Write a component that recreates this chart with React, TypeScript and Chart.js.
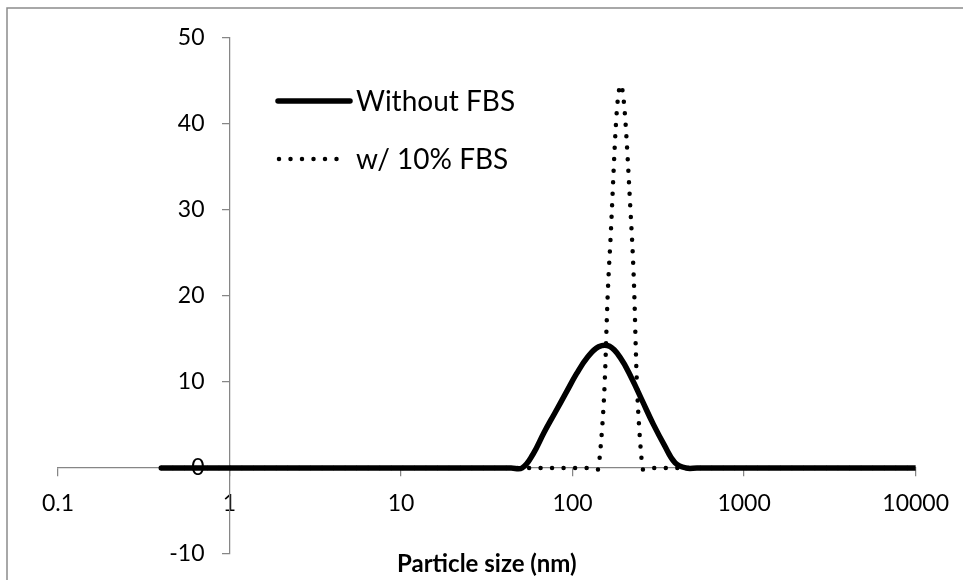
import { useEffect, useRef } from "react";
import { Chart, registerables } from "chart.js";

Chart.register(...registerables);

// Log-spaced size classes (nm) of the DLS size distribution
const sizeBins = [
  0.4, 0.4632, 0.5365, 0.6213, 0.7195, 0.8332, 0.9649, 1.117, 1.294, 1.499,
  1.736, 2.01, 2.328, 2.696, 3.122, 3.615, 4.187, 4.849, 5.615, 6.503,
  7.531, 8.721, 10.1, 11.7, 13.54, 15.69, 18.17, 21.04, 24.36, 28.21,
  32.67, 37.84, 43.82, 50.75, 58.77, 68.06, 78.82, 91.28, 105.7, 122.4,
  141.8, 164.2, 190.1, 220.2, 255.0, 295.3, 342.0, 396.1, 458.7, 531.2,
  615.1, 712.4, 825.0, 955.4, 1106, 1281, 1484, 1718, 1990, 2305,
  2669, 3091, 3580, 4145, 4801, 5560, 6439, 7456, 8635, 10000,
];

// Intensity (%) per size class
const withoutFbs = [
  0, 0, 0, 0, 0, 0, 0, 0, 0, 0,
  0, 0, 0, 0, 0, 0, 0, 0, 0, 0,
  0, 0, 0, 0, 0, 0, 0, 0, 0, 0,
  0, 0, 0, 0, 1.6, 4.1, 6.4, 8.7, 11.0, 12.9,
  14.1, 14.15, 12.8, 10.5, 7.8, 5.1, 2.7, 0.6, 0, 0,
  0, 0, 0, 0, 0, 0, 0, 0, 0, 0,
  0, 0, 0, 0, 0, 0, 0, 0, 0, 0,
];

const withFbs = [
  0, 0, 0, 0, 0, 0, 0, 0, 0, 0,
  0, 0, 0, 0, 0, 0, 0, 0, 0, 0,
  0, 0, 0, 0, 0, 0, 0, 0, 0, 0,
  0, 0, 0, 0, 0, 0, 0, 0, 0, 0,
  0, 24.5, 44.5, 28.0, 0, 0, 0, 0, 0, 0,
  0, 0, 0, 0, 0, 0, 0, 0, 0, 0,
  0, 0, 0, 0, 0, 0, 0, 0, 0, 0,
];

const seriesNames = ["Without FBS", "w/ 10% FBS"];
const xTickValues = [0.1, 1, 10, 100, 1000, 10000];
const xTickLabels = ["0.1", "1", "10", "100", "1000", "10000"];
const yTickValues = [-10, 0, 10, 20, 30, 40, 50];
const yTickLabels = ["-10", "0", "10", "20", "30", "40", "50"];
const xAxisTitle = "Particle size (nm)";

const FONT = "Lato, 'Open Sans', sans-serif";
const AXIS_GRAY = "#868686";
const TEXT = "#000000";

const toPoints = (values: number[]) =>
  sizeBins.map((x, i) => ({ x, y: values[i] }));

// Frame, y tick labels beside the crossing axis, axis title and legend
const decorations = {
  id: "decorations",
  beforeDraw(chart: any) {
    const { ctx } = chart;
    ctx.save();
    ctx.strokeStyle = "#8c8c8c";
    ctx.lineWidth = 1.5;
    ctx.beginPath();
    ctx.moveTo(7, chart.height + 2);
    ctx.lineTo(7, 8);
    ctx.lineTo(chart.width + 2, 8);
    ctx.stroke();
    ctx.restore();
  },
  beforeDatasetsDraw(chart: any) {
    const { ctx, chartArea } = chart;
    const xs = chart.scales.x;
    const ys = chart.scales.y;
    const axisX = xs.getPixelForValue(1);
    ctx.save();
    ctx.fillStyle = TEXT;
    ctx.font = `23px ${FONT}`;
    ctx.textAlign = "right";
    ctx.textBaseline = "middle";
    yTickValues.forEach((v, i) => {
      ctx.fillText(yTickLabels[i], axisX - 25, ys.getPixelForValue(v));
    });
    ctx.font = `bold 24px ${FONT}`;
    ctx.textAlign = "center";
    ctx.textBaseline = "alphabetic";
    ctx.fillText(xAxisTitle, (chartArea.left + chartArea.right) / 2, 572);
    ctx.restore();
  },
  afterDraw(chart: any) {
    const { ctx } = chart;
    const rows = [
      { ds: chart.data.datasets[0], y: 101, x0: 278, x1: 350 },
      { ds: chart.data.datasets[1], y: 159, x0: 279, x1: 341 },
    ];
    ctx.save();
    rows.forEach((r, i) => {
      ctx.strokeStyle = r.ds.borderColor;
      ctx.lineWidth = r.ds.borderWidth;
      ctx.lineCap = "round";
      ctx.setLineDash(r.ds.borderDash || []);
      ctx.beginPath();
      ctx.moveTo(r.x0, r.y);
      ctx.lineTo(r.x1, r.y);
      ctx.stroke();
      ctx.setLineDash([]);
      ctx.fillStyle = TEXT;
      ctx.font = `28px ${FONT}`;
      ctx.textAlign = "left";
      ctx.textBaseline = "middle";
      ctx.fillText(seriesNames[i], 356, r.y + 1);
    });
    ctx.restore();
  },
};

export default function App() {
  const canvasRef = useRef<HTMLCanvasElement | null>(null);

  useEffect(() => {
    const canvas = canvasRef.current;
    if (!canvas) return;
    const chart = new Chart(canvas, {
      type: "line",
      data: {
        datasets: [
          {
            label: seriesNames[0],
            data: toPoints(withoutFbs),
            borderColor: "#000000",
            borderWidth: 5.5,
            borderCapStyle: "round",
            borderJoinStyle: "round",
            pointRadius: 0,
            tension: 0.4,
            fill: false,
            order: 1,
          },
          {
            label: seriesNames[1],
            data: toPoints(withFbs),
            borderColor: "#000000",
            borderWidth: 4.5,
            borderDash: [0, 11.5],
            borderCapStyle: "round",
            borderJoinStyle: "round",
            pointRadius: 0,
            tension: 0.4,
            fill: false,
            order: 0,
          },
        ],
      },
      options: {
        animation: false,
        responsive: false,
        devicePixelRatio: 1,
        layout: { padding: { left: 58, top: 38, right: 44, bottom: 26 } },
        plugins: {
          legend: { display: false },
          tooltip: { enabled: false },
          title: { display: false },
        },
        scales: {
          x: {
            type: "logarithmic",
            min: 0.1,
            max: 10000,
            position: { y: 0 },
            afterBuildTicks: (scale: any) => {
              scale.ticks = xTickValues.map((value) => ({ value }));
            },
            ticks: {
              autoSkip: false,
              maxRotation: 0,
              minRotation: 0,
              padding: 14,
              color: TEXT,
              font: { family: FONT, size: 23, lineHeight: 1.2 },
              callback: (v: any) => {
                const i = xTickValues.indexOf(Number(v));
                return i >= 0 ? xTickLabels[i] : "";
              },
            },
            grid: {
              display: true,
              drawOnChartArea: false,
              drawTicks: true,
              tickLength: 8,
              color: AXIS_GRAY,
              lineWidth: 1.25,
            },
            border: { display: true, color: AXIS_GRAY, width: 1.25 },
            title: { display: false },
          },
          y: {
            type: "linear",
            axis: "y",
            min: -10,
            max: 50,
            position: { x: 1 },
            afterBuildTicks: (scale: any) => {
              scale.ticks = yTickValues.map((value) => ({ value }));
            },
            ticks: { display: false, stepSize: 10 },
            grid: {
              display: true,
              drawOnChartArea: false,
              drawTicks: true,
              tickLength: 7,
              color: AXIS_GRAY,
              lineWidth: 1.25,
            },
            border: { display: true, color: AXIS_GRAY, width: 1.25 },
            title: { display: false },
          },
        },
      } as any,
      plugins: [decorations],
    });
    return () => chart.destroy();
  }, []);

  return (
    <div style={{ position: "absolute", left: 0, top: 0, width: 963, height: 580, background: "#ffffff" }}>
      <canvas ref={canvasRef} width={963} height={580} style={{ display: "block" }} />
    </div>
  );
}
